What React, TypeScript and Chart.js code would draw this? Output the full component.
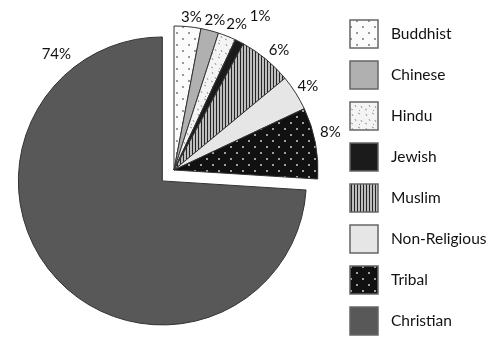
import React, { useEffect, useRef } from 'react';
import { Chart, registerables } from 'chart.js';

Chart.register(...registerables);

// ---- data ----
const categories = ['Buddhist', 'Chinese', 'Hindu', 'Jewish', 'Muslim', 'Non-Religious', 'Tribal', 'Christian'];
const shares = [3, 2, 2, 1, 6, 4, 8, 74];
const percentLabels = ['3%', '2%', '2%', '1%', '6%', '4%', '8%', '74%'];

// ---- style ----
const FONT = 'Lato, "Open Sans", "DejaVu Sans", sans-serif';
const fillKinds = ['dotsLight', 'gray', 'specks', 'black', 'stripes', 'light', 'dotsDark', 'dark'];
// position of each % label: fraction along the slice angle, distance from slice centre
const labelAngleFrac = [0.6, 0.62, 0.72, 1.14, 0.58, 0.52, 0.4, 0.85];
const labelDist = [154, 155, 159, 176, 159, 158, 161, 165];

function makeFill(kind: string): CanvasPattern | string {
  const c = document.createElement('canvas');
  const g = c.getContext('2d') as CanvasRenderingContext2D;
  const dot = (x: number, y: number, r: number, col: string) => {
    g.fillStyle = col;
    g.beginPath();
    g.arc(x, y, r, 0, Math.PI * 2);
    g.fill();
  };
  switch (kind) {
    case 'dotsLight': {
      c.width = 12; c.height = 12;
      g.fillStyle = '#fbfbfb'; g.fillRect(0, 0, 12, 12);
      dot(3, 3, 0.9, '#6a6a6a');
      dot(9, 9, 0.9, '#6a6a6a');
      break;
    }
    case 'specks': {
      c.width = 14; c.height = 14;
      g.fillStyle = '#f4f4f4'; g.fillRect(0, 0, 14, 14);
      g.strokeStyle = '#9a9a9a'; g.lineWidth = 1;
      const segs = [[2, 2, 3, 4], [8, 1, 10, 2], [5, 7, 6, 9], [11, 8, 12, 10], [1, 11, 3, 12], [9, 12, 10, 13]];
      segs.forEach(s => { g.beginPath(); g.moveTo(s[0], s[1]); g.lineTo(s[2], s[3]); g.stroke(); });
      break;
    }
    case 'stripes': {
      c.width = 3; c.height = 4;
      g.fillStyle = '#bdbdbd'; g.fillRect(0, 0, 3, 4);
      g.fillStyle = '#252525'; g.fillRect(0, 0, 1, 4);
      break;
    }
    case 'dotsDark': {
      c.width = 12; c.height = 12;
      g.fillStyle = '#111111'; g.fillRect(0, 0, 12, 12);
      dot(3, 3, 1, '#d0d0d0');
      dot(9, 9, 1, '#d0d0d0');
      break;
    }
    case 'gray': return '#b0b0b0';
    case 'black': return '#1b1b1b';
    case 'light': return '#e6e6e6';
    default: return '#585858';
  }
  const p = g.createPattern(c, 'repeat');
  return p || '#888';
}

const explodePlugin = {
  id: 'explodeSlice',
  afterDatasetUpdate(chart: any, args: any, opts: any) {
    const arc = args.meta.data[opts.index];
    if (!arc) return;
    const mid = (arc.startAngle + arc.endAngle) / 2;
    arc.x += Math.cos(mid) * opts.distance;
    arc.y += Math.sin(mid) * opts.distance;
  },
};

const percentPlugin = {
  id: 'percentLabels',
  afterDatasetsDraw(chart: any, _args: any, opts: any) {
    const ctx = chart.ctx;
    const meta = chart.getDatasetMeta(0);
    ctx.save();
    ctx.font = opts.font;
    ctx.fillStyle = opts.color;
    ctx.textAlign = 'center';
    ctx.textBaseline = 'middle';
    meta.data.forEach((arc: any, i: number) => {
      const a = arc.startAngle + (arc.endAngle - arc.startAngle) * opts.frac[i];
      const d = opts.dist[i];
      ctx.fillText(opts.labels[i], arc.x + Math.cos(a) * d, arc.y + Math.sin(a) * d);
    });
    ctx.restore();
  },
};

const sideLegendPlugin = {
  id: 'sideLegend',
  afterDraw(chart: any, _args: any, opts: any) {
    const ctx = chart.ctx;
    const ds = chart.data.datasets[0];
    ctx.save();
    chart.data.labels.forEach((label: string, i: number) => {
      const y = opts.top + i * opts.step;
      ctx.fillStyle = ds.backgroundColor[i];
      ctx.fillRect(opts.left, y, opts.box, opts.box);
      ctx.strokeStyle = opts.border;
      ctx.lineWidth = 1.5;
      ctx.strokeRect(opts.left, y, opts.box, opts.box);
      ctx.fillStyle = opts.color;
      ctx.font = opts.font;
      ctx.textAlign = 'left';
      ctx.textBaseline = 'middle';
      ctx.fillText(label, opts.textLeft, y + opts.box / 2);
    });
    ctx.restore();
  },
};

export default function App() {
  const ref = useRef<HTMLCanvasElement | null>(null);
  useEffect(() => {
    if (!ref.current) return;
    const fills = fillKinds.map(makeFill);
    const chart = new Chart(ref.current, {
      type: 'pie',
      data: {
        labels: categories,
        datasets: [
          {
            data: shares,
            backgroundColor: fills as any,
            borderColor: '#333333',
            borderWidth: 1,
          },
        ],
      },
      options: {
        animation: false,
        responsive: false,
        devicePixelRatio: 1,
        radius: 144,
        layout: { padding: { left: 0, right: 141, top: 0, bottom: 8 } },
        events: [],
        plugins: {
          legend: { display: false },
          tooltip: { enabled: false },
          explodeSlice: { index: 7, distance: 16 },
          percentLabels: {
            labels: percentLabels,
            frac: labelAngleFrac,
            dist: labelDist,
            font: `15px ${FONT}`,
            color: '#111111',
          },
          sideLegend: {
            left: 350,
            top: 20,
            step: 41,
            box: 28,
            textLeft: 391,
            border: '#666666',
            font: `15.5px ${FONT}`,
            color: '#111111',
          },
        } as any,
      },
      plugins: [explodePlugin, percentPlugin, sideLegendPlugin],
    });
    return () => chart.destroy();
  }, []);
  return (
    <div style={{ position: 'absolute', left: 0, top: 0, width: 489, height: 348, background: '#ffffff' }}>
      <canvas ref={ref} width={489} height={348} />
    </div>
  );
}
